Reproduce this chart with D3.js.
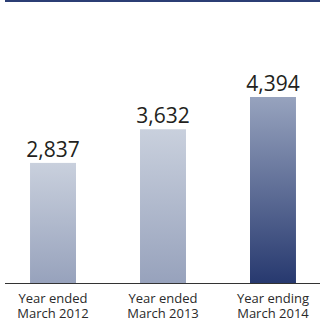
<!DOCTYPE html>
<html>
<head>
<meta charset="utf-8">
<script src="https://cdn.jsdelivr.net/npm/d3@7"></script>
<style>
  html, body { margin: 0; padding: 0; background: #fff; }
  svg { display: block; }
</style>
</head>
<body>
<div id="chart"></div>
<script>
// data
var periods = ["Year ended\nMarch 2012", "Year ended\nMarch 2013", "Year ending\nMarch 2014"];
var values = [2837, 3632, 4394];
var valueLabels = ["2,837", "3,632", "4,394"];
var gradients = [["#c9d0dd", "#97a2bc"], ["#c9d0dd", "#97a2bc"], ["#97a3be", "#27396f"]];

var W = 320, H = 321;
var svg = d3.select("#chart").append("svg").attr("width", W).attr("height", H);

var base = 283;
var x = d3.scaleBand().domain(d3.range(values.length)).range([0, 326]).paddingInner(0.582).paddingOuter(0.273);
var y = d3.scaleLinear().domain([0, 4394]).range([base, 97]);

// top rule
svg.append("rect").attr("x", 5).attr("y", 0).attr("width", 315).attr("height", 2).attr("fill", "#2b3e74");

var defs = svg.append("defs");
gradients.forEach(function(g, i) {
  var lg = defs.append("linearGradient").attr("id", "g" + i)
    .attr("x1", 0).attr("y1", 0).attr("x2", 0).attr("y2", 1);
  lg.append("stop").attr("offset", "0%").attr("stop-color", g[0]);
  lg.append("stop").attr("offset", "100%").attr("stop-color", g[1]);
});

svg.selectAll(".bar").data(values).enter().append("rect")
  .attr("class", "bar")
  .attr("x", function(d, i) { return x(i); })
  .attr("width", x.bandwidth())
  .attr("y", function(d) { return y(d); })
  .attr("height", function(d) { return base - y(d); })
  .attr("fill", function(d, i) { return "url(#g" + i + ")"; });

svg.selectAll(".val").data(values).enter().append("text")
  .attr("class", "val")
  .attr("x", function(d, i) { return x(i) + x.bandwidth() / 2; })
  .attr("y", function(d) { return y(d) - 6; })
  .attr("text-anchor", "middle")
  .style("font-family", "'Open Sans', sans-serif")
  .style("font-size", "21px")
  .style("fill", "#231f20")
  .text(function(d, i) { return valueLabels[i]; });

// baseline
svg.append("line").attr("x1", 5).attr("x2", 320).attr("y1", base + 0.5).attr("y2", base + 0.5)
  .attr("stroke", "#333").attr("stroke-width", 1);

var lab = svg.selectAll(".lab").data(periods).enter().append("text")
  .attr("class", "lab")
  .attr("text-anchor", "middle")
  .style("font-family", "'Open Sans', sans-serif")
  .style("font-size", "13px")
  .style("fill", "#2a2a2a");
lab.each(function(d, i) {
  var t = d3.select(this);
  d.split("\n").forEach(function(s, k) {
    t.append("tspan").attr("x", x(i) + x.bandwidth() / 2).attr("y", 303 + k * 15).text(s);
  });
});
</script>
</body>
</html>
